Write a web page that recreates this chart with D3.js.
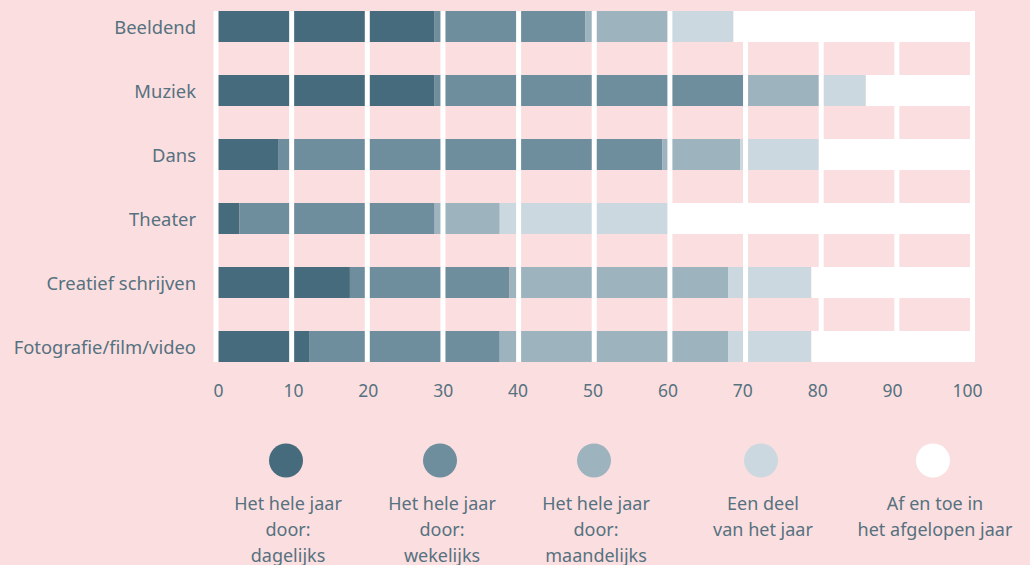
<!DOCTYPE html>
<html>
<head>
<meta charset="utf-8">
<script src="https://cdn.jsdelivr.net/npm/d3@7"></script>
<style>
  body { margin: 0; background: #fbdfe0; }
  svg { display: block; }
  text { font-family: "Noto Sans", sans-serif; fill: #56717f; }
</style>
</head>
<body>
<svg></svg>
<script>
var width = 1030;
var height = 565;

var categories = ["Beeldend", "Muziek", "Dans", "Theater", "Creatief schrijven", "Fotografie/film/video"];

// percentages per frequency, in stack order
var dagelijks   = [28.9, 28.9,  8.2,  3.1, 17.7, 12.3];
var wekelijks   = [19.9, 40.9, 50.8, 25.8, 21.1, 25.2];
var maandelijks = [11.1, 10.0, 10.3,  8.6, 28.9, 30.2];
var deelJaar    = [ 8.5,  6.1, 10.5, 22.3, 11.0, 11.0];
var afEnToe     = [31.6, 14.1, 20.2, 40.2, 21.3, 21.3];

var seriesNames = ["dagelijks", "wekelijks", "maandelijks", "deelJaar", "afEnToe"];
var seriesColors = ["#466b7c", "#6f8e9d", "#9db4bf", "#ccd8df", "#ffffff"];
var legendLabels = [
  ["Het hele jaar", "door:", "dagelijks"],
  ["Het hele jaar", "door:", "wekelijks"],
  ["Het hele jaar", "door:", "maandelijks"],
  ["Een deel", "van het jaar"],
  ["Af en toe in", "het afgelopen jaar"]
];
var tickValues = [0, 10, 20, 30, 40, 50, 60, 70, 80, 90, 100];

var table = categories.map((c, i) => ({
  cat: c,
  dagelijks: dagelijks[i],
  wekelijks: wekelijks[i],
  maandelijks: maandelijks[i],
  deelJaar: deelJaar[i],
  afEnToe: afEnToe[i]
}));

var svg = d3.select('svg')
  .attr('width', width)
  .attr('height', height);

var x = d3.scaleLinear().domain([0, 100]).range([216, 972.5]);
var y = d3.scaleBand()
  .domain(categories)
  .range([11, 362])
  .paddingInner(33 / 64)
  .paddingOuter(0);

var stack = d3.stack().keys(seriesNames)(table);

svg.append('g')
  .selectAll('g')
  .data(stack)
  .join('g')
    .attr('fill', (d, i) => seriesColors[i])
  .selectAll('rect')
  .data(d => d)
  .join('rect')
    .attr('x', d => x(d[0]))
    .attr('y', d => y(d.data.cat))
    .attr('width', d => x(d[1]) - x(d[0]))
    .attr('height', y.bandwidth());

// white gridlines on top of the bars
svg.append('g')
  .selectAll('line')
  .data(tickValues)
  .join('line')
    .attr('x1', d => x(d))
    .attr('x2', d => x(d))
    .attr('y1', 11)
    .attr('y2', 362)
    .attr('stroke', '#ffffff')
    .attr('stroke-width', 5);

// category labels
svg.append('g')
  .selectAll('text')
  .data(categories)
  .join('text')
    .attr('x', 196)
    .attr('y', d => y(d) + y.bandwidth() / 2 + 1)
    .attr('dy', '0.35em')
    .attr('text-anchor', 'end')
    .attr('font-size', '18.4px')
    .text(d => d);

// tick labels (they sit slightly left of the gridlines in the original)
var xLabels = d3.scaleLinear().domain([0, 100]).range([218, 967]);
var axis = svg.append('g')
  .attr('transform', 'translate(0,379)')
  .call(d3.axisBottom(xLabels).tickValues(tickValues).tickSize(0).tickPadding(6));
axis.select('.domain').remove();
axis.selectAll('text')
  .attr('font-size', '17.5px')
  .attr('font-family', '"Noto Sans", sans-serif')
  .attr('fill', '#56717f');

// legend
var legendX = [286, 440, 594, 761, 933];
var legend = svg.append('g')
  .selectAll('g')
  .data(seriesNames)
  .join('g')
    .attr('transform', (d, i) => 'translate(' + legendX[i] + ',0)');

legend.append('circle')
  .attr('cy', 460.5)
  .attr('r', 17)
  .attr('fill', (d, i) => seriesColors[i]);

legend.append('text')
  .attr('text-anchor', 'middle')
  .attr('font-size', '18px')
  .selectAll('tspan')
  .data((d, i) => legendLabels[i])
  .join('tspan')
    .attr('x', 2)
    .attr('y', (d, j) => 504 + j * 26)
    .attr('dy', '0.35em')
    .text(d => d);
</script>
</body>
</html>
